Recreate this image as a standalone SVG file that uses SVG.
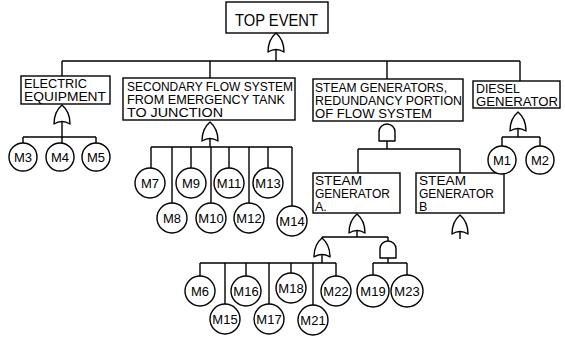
<svg xmlns="http://www.w3.org/2000/svg" width="565" height="337" viewBox="0 0 565 337">
<style>
.bx{fill:#fff;stroke:#000;stroke-width:1.4}
.ev{fill:#fff;stroke:#000;stroke-width:1.4}
.g{fill:#fff;stroke:#000;stroke-width:1.4;stroke-linejoin:round}
.ln{fill:none;stroke:#000;stroke-width:1.4}
text{font-family:"Liberation Sans",Arial,sans-serif;fill:#000}
.t{font-size:13px}
.ts{font-size:12.5px}
.tt{font-size:17px}
.c{font-size:13px;text-anchor:middle}
</style>
<defs>
<path id="or" class="g" d="M-8,19 C-8,11 -6,5 0,0 C6,5 8,11 8,19 Q0,14 -8,19 Z"/>
<path id="and" class="g" d="M-8,17 L-8,8 A8,8 0 0 1 8,8 L8,17 Z"/>
</defs>
<g id="connectors" class="ln">
<path d="M276,49 V61 M62,61 H520 M62,61 V76 M210,61 V78 M387,61 V79 M520,61 V81"/>
<path d="M62,121 V137 M23,137 H96 M23,137 V143 M62,137 V143 M96,137 V143"/>
<path d="M210,138 V147 M151,147 H292 M151,147 V168 M191,147 V168 M229,147 V168 M268,147 V168 M172,147 V203 M211,147 V203 M249,147 V203 M292,147 V206"/>
<path d="M387,141 V149 M358,149 H460 M358,149 V173 M460,149 V173"/>
<path d="M518,129 V137 M502,137 H540 M502,137 V146 M540,137 V146"/>
<path d="M357,230 V237 M322,237 H388 M322,237 V240 M388,237 V241 M460,231 V239"/>
<path d="M322,254 V263 M200,263 H336 M200,263 V276 M246,263 V276 M291,263 V273 M336,263 V276 M225,263 V304 M269,263 V304 M313,263 V305"/>
<path d="M388,258 V263 M373,263 H407 M373,263 V276 M407,263 V276"/>
</g>
<g id="top"><rect class="bx" x="226" y="2" width="102" height="31"/><text class="tt" x="235" y="26" textLength="83" lengthAdjust="spacingAndGlyphs">TOP EVENT</text><use href="#or" x="276" y="33"/></g>
<g id="electric"><rect class="bx" x="21" y="76" width="89" height="28"/><text class="t" x="24" y="88" textLength="63" lengthAdjust="spacingAndGlyphs">ELECTRIC</text><text class="t" x="24" y="101" textLength="82" lengthAdjust="spacingAndGlyphs">EQUIPMENT</text><use href="#or" x="62" y="105"/></g>
<g id="secondary"><rect class="bx" x="123" y="78" width="172" height="42"/><text class="t" x="127" y="91" textLength="166" lengthAdjust="spacingAndGlyphs">SECONDARY FLOW SYSTEM</text><text class="t" x="127" y="104" textLength="158" lengthAdjust="spacingAndGlyphs">FROM EMERGENCY TANK</text><text class="t" x="127" y="117" textLength="96" lengthAdjust="spacingAndGlyphs">TO  JUNCTION</text><use href="#or" x="210" y="122"/></g>
<g id="steamgens"><rect class="bx" x="313" y="79" width="150" height="42"/><text class="t" x="315" y="92" textLength="132" lengthAdjust="spacingAndGlyphs">STEAM GENERATORS,</text><text class="t" x="315" y="105" textLength="147" lengthAdjust="spacingAndGlyphs">REDUNDANCY PORTION</text><text class="t" x="315" y="118" textLength="117" lengthAdjust="spacingAndGlyphs">OF FLOW  SYSTEM</text><use href="#and" x="387" y="124"/></g>
<g id="diesel"><rect class="bx" x="473" y="81" width="87" height="27"/><text class="t" x="476" y="93" textLength="44" lengthAdjust="spacingAndGlyphs">DIESEL</text><text class="t" x="476" y="106" textLength="82" lengthAdjust="spacingAndGlyphs">GENERATOR</text><use href="#or" x="518" y="112"/></g>
<g id="sga"><rect class="bx" x="313" y="173" width="87" height="40"/><text class="ts" x="315" y="185" textLength="47" lengthAdjust="spacingAndGlyphs">STEAM</text><text class="ts" x="315" y="198" textLength="75" lengthAdjust="spacingAndGlyphs">GENERATOR</text><text class="ts" x="315" y="211">A.</text><use href="#or" x="357" y="214"/></g>
<g id="sgb"><rect class="bx" x="416" y="173" width="88" height="40"/><text class="ts" x="419" y="185" textLength="47" lengthAdjust="spacingAndGlyphs">STEAM</text><text class="ts" x="419" y="198" textLength="75" lengthAdjust="spacingAndGlyphs">GENERATOR</text><text class="ts" x="419" y="211">B</text><use href="#or" x="460" y="215"/></g>
<g id="gate-sga-or"><use href="#or" x="322" y="238"/></g>
<g id="gate-sga-and"><use href="#and" x="388" y="241"/></g>
<g id="M3"><circle class="ev" cx="23" cy="157" r="14"/><text class="c" x="23" y="162">M3</text></g>
<g id="M4"><circle class="ev" cx="60" cy="157" r="14"/><text class="c" x="60" y="162">M4</text></g>
<g id="M5"><circle class="ev" cx="96" cy="157" r="14"/><text class="c" x="96" y="162">M5</text></g>
<g id="M7"><circle class="ev" cx="150" cy="183" r="15"/><text class="c" x="150" y="188">M7</text></g>
<g id="M9"><circle class="ev" cx="191" cy="183" r="15"/><text class="c" x="191" y="188">M9</text></g>
<g id="M11"><circle class="ev" cx="229" cy="183" r="15"/><text class="c" x="229" y="188">M11</text></g>
<g id="M13"><circle class="ev" cx="268" cy="183" r="15"/><text class="c" x="268" y="188">M13</text></g>
<g id="M8"><circle class="ev" cx="172" cy="218" r="15"/><text class="c" x="172" y="223">M8</text></g>
<g id="M10"><circle class="ev" cx="211" cy="218" r="15"/><text class="c" x="211" y="223">M10</text></g>
<g id="M12"><circle class="ev" cx="249" cy="218" r="15"/><text class="c" x="249" y="223">M12</text></g>
<g id="M14"><circle class="ev" cx="292" cy="221" r="15"/><text class="c" x="292" y="226">M14</text></g>
<g id="M1"><circle class="ev" cx="502" cy="160" r="14"/><text class="c" x="502" y="165">M1</text></g>
<g id="M2"><circle class="ev" cx="540" cy="160" r="14"/><text class="c" x="540" y="165">M2</text></g>
<g id="M6"><circle class="ev" cx="200" cy="291" r="15"/><text class="c" x="200" y="296">M6</text></g>
<g id="M16"><circle class="ev" cx="246" cy="291" r="15"/><text class="c" x="246" y="296">M16</text></g>
<g id="M18"><circle class="ev" cx="291" cy="288" r="15"/><text class="c" x="291" y="293">M18</text></g>
<g id="M22"><circle class="ev" cx="336" cy="291" r="15"/><text class="c" x="336" y="296">M22</text></g>
<g id="M15"><circle class="ev" cx="225" cy="319" r="15"/><text class="c" x="225" y="324">M15</text></g>
<g id="M17"><circle class="ev" cx="269" cy="319" r="15"/><text class="c" x="269" y="324">M17</text></g>
<g id="M21"><circle class="ev" cx="313" cy="320" r="15"/><text class="c" x="313" y="325">M21</text></g>
<g id="M19"><circle class="ev" cx="373" cy="291" r="16"/><text class="c" x="373" y="296">M19</text></g>
<g id="M23"><circle class="ev" cx="407" cy="291" r="16"/><text class="c" x="407" y="296">M23</text></g>
</svg>
